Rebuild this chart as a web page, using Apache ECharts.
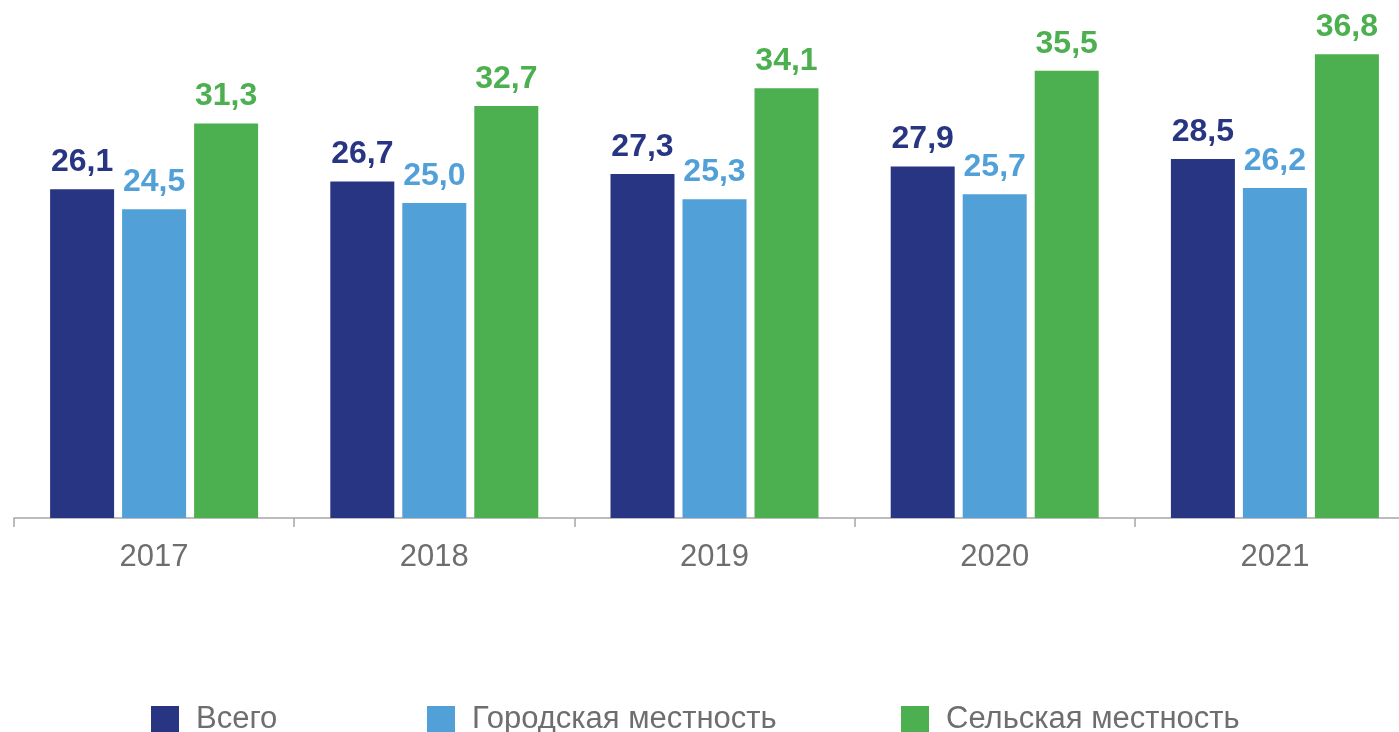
<!DOCTYPE html>
<html>
<head>
<meta charset="utf-8">
<title>chart</title>
<script src="https://cdn.jsdelivr.net/npm/echarts@6/dist/echarts.min.js"></script>
<style>
	html, body { margin: 0; padding: 0; background: #fff; }
	#chart { width: 1399px; height: 732px; }
</style>
</head>
<body>
<div id="chart"></div>
<script>
	var years = ['2017', '2018', '2019', '2020', '2021']
	var vsego = [26.1, 26.7, 27.3, 27.9, 28.5]
	var gorod = [24.5, 25.0, 25.3, 25.7, 26.2]
	var selo = [31.3, 32.7, 34.1, 35.5, 36.8]
	var names = ['Всего', 'Городская местность', 'Сельская местность']

	var colors = ['#283583', '#52a0d8', '#4caf50']
	var font = '"Liberation Sans", Arial, sans-serif'

	function makeSeries(name, data, color) {
		return {
			name: name,
			type: 'bar',
			data: data,
			barWidth: 64,
			barGap: '12.5%',
			itemStyle: { color: color },
			label: {
				show: true,
				position: 'top',
				distance: 11,
				color: color,
				fontSize: 32,
				fontWeight: 'bold',
				fontFamily: font,
				formatter: function (p) {
					return p.value.toFixed(1).replace('.', ',')
				}
			}
		}
	}

	function makeLegend(name, left) {
		return {
			data: [name],
			left: left,
			top: 699,
			icon: 'rect',
			itemWidth: 28,
			itemHeight: 27,
			selectedMode: false,
			textStyle: {
				color: '#6e6e6e',
				fontSize: 31,
				fontFamily: font,
				padding: [0, 0, 0, 12]
			}
		}
	}

	var myChart = echarts.init(document.getElementById('chart'))
	var option = {
		animation: false,
		color: colors,
		legend: [
			makeLegend(names[0], 146),
			makeLegend(names[1], 422),
			makeLegend(names[2], 896)
		],
		grid: {
			left: 14,
			top: 14,
			width: 1401,
			height: 504,
			outerBoundsMode: 'none'
		},
		xAxis: {
			type: 'category',
			data: years,
			axisLine: { lineStyle: { color: '#a6a6a6', width: 1.5 } },
			axisTick: { show: true, length: 9, lineStyle: { color: '#a6a6a6', width: 1.5 } },
			axisLabel: {
				color: '#6e6e6e',
				fontSize: 31,
				fontFamily: font,
				margin: 24
			}
		},
		yAxis: {
			type: 'value',
			min: 0,
			max: 40,
			show: false,
			splitLine: { show: false }
		},
		series: [
			makeSeries(names[0], vsego, colors[0]),
			makeSeries(names[1], gorod, colors[1]),
			makeSeries(names[2], selo, colors[2])
		]
	}
	myChart.setOption(option)
</script>
</body>
</html>
